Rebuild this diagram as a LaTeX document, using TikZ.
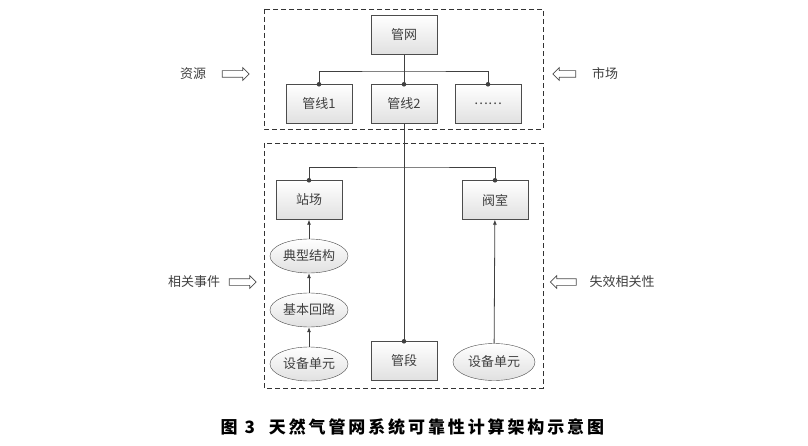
\documentclass[tikz,border=0pt]{standalone}
\usepackage{fontspec}
\setmainfont{Noto Sans CJK SC}
\usetikzlibrary{shapes.geometric,shapes.arrows,arrows.meta}

\begin{document}
\begin{tikzpicture}[x=1pt,y=-1pt,
  caja/.style={draw=black!70, top color=white, bottom color=black!12, minimum width=66pt, minimum height=39pt, inner sep=0pt, font=\fontsize{13}{13}\selectfont, text=black!75},
  elipse/.style={ellipse, draw=black!70, top color=white, bottom color=black!12, minimum width=78pt, minimum height=34pt, inner sep=0pt, font=\fontsize{13}{13}\selectfont, text=black!75},
  marco/.style={draw=black!80, line width=0.9pt, dash pattern=on 5pt off 3pt},
  linea/.style={draw=black!75, line width=0.8pt},
  flecha/.style={linea, -{Latex[length=5pt,width=4pt]}},
  hueca/.style={single arrow, draw=black!70, line width=0.7pt, minimum height=27pt, minimum width=12pt, single arrow head extend=3pt, inner xsep=0pt, inner ysep=3pt, text height=0pt, text depth=0pt, text width=0pt},
  etiqueta/.style={font=\fontsize{13}{13}\selectfont, text=black!75}]
\useasboundingbox (0,0) rectangle (808,446);
\fill[white] (0,0) rectangle (808,446);
% Marcos
\draw[marco] (264,9) rectangle (543,129);
\draw[marco] (264,143) rectangle (543,388);
% Red y tuberías
\node[caja] (gw) at (404,35) {管网};
\node[caja] (gx1) at (319,104) {管线1};
\node[caja] (gx2) at (404,104) {管线2};
\node[caja] (gx3) at (488,104) {……};
% Estaciones, válvulas y tramo
\node[caja] (zc) at (309,200) {站场};
\node[caja] (fs) at (495,200) {阀室};
\node[caja] (gd) at (404,361) {管段};
% Elipses
\node[elipse] (dx) at (309,256) {典型结构};
\node[elipse] (jb) at (309,310) {基本回路};
\node[elipse] (sb1) at (309,364) {设备单元};
\node[elipse, minimum width=82pt, minimum height=37pt] (sb2) at (494,362) {设备单元};
% Conexiones
\coordinate (b1) at (404,71);
\coordinate (b2) at (404,167);
\draw[linea] (gw.south) -- (b1);
\draw[linea] (gx1.north) |- (b1) -| (gx3.north);
\draw[linea] (b1) -- (gx2.north);
\draw[linea] (gx2.south) -- (gd.north);
\draw[linea] (zc.north) |- (b2) -| (fs.north);
\foreach \n in {gx1,gx2,gx3,zc,fs,gd}
  \fill[black!75] (\n.north) circle (2.3);
% Flechas
\draw[flecha] (sb1) -- (jb);
\draw[flecha] (jb) -- (dx);
\draw[flecha] (dx) -- (zc);
\draw[flecha] (sb2) -- (fs);
% Etiquetas laterales
\node[etiqueta] (zy) at (193,74) {资源};
\node[hueca] (h1) at (234,74) {};
\node[hueca, minimum height=23pt, shape border rotate=180] (h2) at (566,74) {};
\node[etiqueta] (sc) at (605,74) {市场};
\node[etiqueta] (xg) at (194,282) {相关事件};
\node[hueca] (h3) at (241,282) {};
\node[hueca, minimum height=26pt, shape border rotate=180] (h4) at (565,282) {};
\node[etiqueta, anchor=west] (sx) at (586,282) {失效相关性};
% Título
\node[anchor=west, font=\bfseries\fontsize{17}{17}\selectfont] (tit) at (217,427)
  {图\hspace{7pt}3\hspace{14pt}{\addfontfeatures{LetterSpace=17}天然气管网系统可靠性计算架构示意图}};
\end{tikzpicture}
\end{document}
